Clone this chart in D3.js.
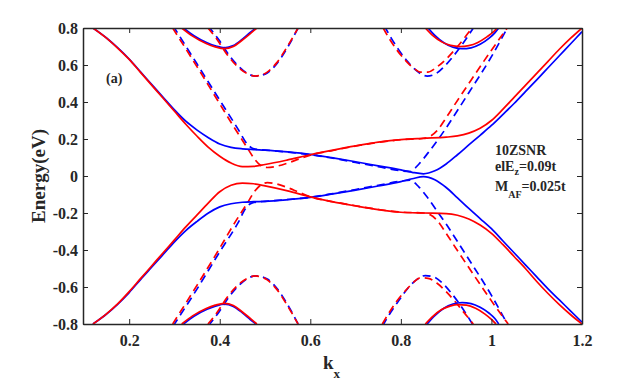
<!DOCTYPE html>
<html>
<head>
<meta charset="utf-8">
<script src="https://cdn.jsdelivr.net/npm/d3@7"></script>
<style>
  body { margin: 0; background: #fff; }
  svg { display: block; }
  text { font-family: "Liberation Serif", "Times New Roman", serif; font-weight: bold; fill: #262626; }
</style>
</head>
<body>
<div id="chart"></div>
<script>
// tick labels
const xTicks = [0.2, 0.4, 0.6, 0.8, 1, 1.2];
const yTicks = [-0.8, -0.6, -0.4, -0.2, 0, 0.2, 0.4, 0.6, 0.8];

// solid bands, [kx, E]
const redUpper = [[0.12,0.8],[0.15,0.745],[0.175,0.69],[0.2,0.63],[0.225,0.56],[0.25,0.49],[0.275,0.42],[0.3,0.35],[0.325,0.28],[0.35,0.215],[0.375,0.155],[0.4,0.107],[0.425,0.07],[0.45,0.051],[0.475,0.052],[0.5,0.062],[0.55,0.087],[0.6,0.115],[0.65,0.14],[0.7,0.163],[0.75,0.183],[0.8,0.197],[0.85,0.204],[0.9,0.21],[0.925,0.217],[0.95,0.232],[0.975,0.258],[1.0,0.3],[1.025,0.36],[1.05,0.425],[1.075,0.49],[1.1,0.555],[1.125,0.62],[1.15,0.685],[1.175,0.745],[1.2,0.8]];
const blueUpper = [[0.12,0.8],[0.15,0.746],[0.175,0.692],[0.2,0.632],[0.225,0.563],[0.25,0.494],[0.275,0.425],[0.3,0.357],[0.325,0.296],[0.35,0.248],[0.375,0.207],[0.4,0.173],[0.425,0.155],[0.45,0.147],[0.475,0.143],[0.5,0.14],[0.55,0.13],[0.6,0.117],[0.65,0.098],[0.7,0.077],[0.75,0.055],[0.8,0.033],[0.825,0.02],[0.85,0.012],[0.875,0.028],[0.9,0.065],[0.925,0.115],[0.95,0.168],[0.975,0.22],[1.0,0.273],[1.025,0.332],[1.05,0.392],[1.075,0.456],[1.1,0.52],[1.125,0.585],[1.15,0.65],[1.175,0.715],[1.2,0.78]];
const redLower = [[0.12,-0.8],[0.15,-0.745],[0.175,-0.69],[0.2,-0.625],[0.225,-0.555],[0.25,-0.485],[0.275,-0.415],[0.3,-0.345],[0.325,-0.275],[0.35,-0.21],[0.375,-0.145],[0.4,-0.085],[0.425,-0.05],[0.45,-0.038],[0.475,-0.042],[0.5,-0.053],[0.55,-0.08],[0.6,-0.113],[0.65,-0.14],[0.7,-0.162],[0.75,-0.182],[0.8,-0.196],[0.85,-0.2],[0.9,-0.203],[0.925,-0.212],[0.95,-0.232],[0.975,-0.265],[1.0,-0.31],[1.025,-0.37],[1.05,-0.435],[1.075,-0.5],[1.1,-0.57],[1.125,-0.635],[1.15,-0.695],[1.175,-0.75],[1.2,-0.8]];
const blueLower = [[0.12,-0.8],[0.15,-0.746],[0.175,-0.692],[0.2,-0.63],[0.225,-0.56],[0.25,-0.492],[0.275,-0.424],[0.3,-0.356],[0.325,-0.295],[0.35,-0.245],[0.375,-0.2],[0.4,-0.167],[0.425,-0.15],[0.45,-0.142],[0.475,-0.139],[0.5,-0.137],[0.55,-0.128],[0.6,-0.116],[0.65,-0.097],[0.7,-0.076],[0.75,-0.054],[0.8,-0.03],[0.825,-0.015],[0.85,-0.003],[0.875,-0.02],[0.9,-0.062],[0.925,-0.118],[0.95,-0.175],[0.975,-0.23],[1.0,-0.285],[1.025,-0.35],[1.05,-0.415],[1.075,-0.48],[1.1,-0.545],[1.125,-0.61],[1.15,-0.67],[1.175,-0.73],[1.2,-0.79]];

// small pockets near +-0.68
const redTopLeft = [[0.316,0.8],[0.34,0.756],[0.37,0.716],[0.39,0.698],[0.41,0.688],[0.43,0.7],[0.45,0.735],[0.47,0.775],[0.482,0.8]];
const blueTopLeft = [[0.32,0.8],[0.343,0.758],[0.372,0.72],[0.392,0.702],[0.41,0.693],[0.43,0.705],[0.45,0.74],[0.468,0.777],[0.48,0.8]];
const redBotLeft = [[0.316,-0.8],[0.34,-0.756],[0.37,-0.716],[0.39,-0.698],[0.41,-0.688],[0.43,-0.7],[0.45,-0.735],[0.47,-0.775],[0.482,-0.8]];
const blueBotLeft = [[0.32,-0.8],[0.343,-0.758],[0.372,-0.72],[0.392,-0.702],[0.41,-0.693],[0.43,-0.705],[0.45,-0.74],[0.468,-0.777],[0.48,-0.8]];
const redTopRight = [[0.854,0.8],[0.87,0.76],[0.89,0.725],[0.91,0.706],[0.93,0.7],[0.95,0.705],[0.97,0.722],[0.99,0.752],[1.005,0.78],[1.013,0.8]];
const blueTopRight = [[0.86,0.8],[0.875,0.76],[0.895,0.72],[0.915,0.696],[0.935,0.688],[0.955,0.693],[0.975,0.712],[0.995,0.745],[1.008,0.775],[1.016,0.8]];
const redBotRight = [[0.854,-0.8],[0.87,-0.76],[0.89,-0.722],[0.91,-0.702],[0.925,-0.695],[0.945,-0.698],[0.965,-0.715],[0.985,-0.745],[1.0,-0.775],[1.01,-0.8]];
const blueBotRight = [[0.858,-0.8],[0.875,-0.755],[0.895,-0.715],[0.915,-0.692],[0.935,-0.684],[0.955,-0.69],[0.975,-0.71],[0.995,-0.742],[1.008,-0.772],[1.016,-0.8]];

// dashed bands
const redDashTopLeft = [[0.374,0.8],[0.394,0.738],[0.416,0.657],[0.438,0.594],[0.46,0.554],[0.478,0.54],[0.504,0.56],[0.526,0.613],[0.548,0.695],[0.573,0.8]];
const blueDashTopLeft = [[0.378,0.8],[0.398,0.736],[0.42,0.655],[0.442,0.592],[0.462,0.553],[0.48,0.54],[0.505,0.557],[0.527,0.61],[0.549,0.692],[0.573,0.8]];
const redDashBotLeft = [[0.374,-0.8],[0.394,-0.738],[0.416,-0.657],[0.438,-0.594],[0.46,-0.554],[0.478,-0.54],[0.504,-0.56],[0.526,-0.613],[0.548,-0.695],[0.573,-0.8]];
const blueDashBotLeft = [[0.378,-0.8],[0.398,-0.736],[0.42,-0.655],[0.442,-0.592],[0.462,-0.553],[0.48,-0.54],[0.505,-0.557],[0.527,-0.61],[0.549,-0.692],[0.573,-0.8]];
const redDashTopRight = [[0.761,0.8],[0.775,0.74],[0.79,0.685],[0.81,0.625],[0.828,0.583],[0.843,0.562],[0.86,0.562],[0.88,0.59],[0.9,0.632],[0.92,0.685],[0.94,0.745],[0.957,0.8]];
const blueDashTopRight = [[0.766,0.8],[0.78,0.74],[0.795,0.683],[0.815,0.618],[0.835,0.568],[0.858,0.54],[0.875,0.55],[0.895,0.59],[0.915,0.645],[0.935,0.71],[0.96,0.8]];
const redDashBotRight = [[0.759,-0.8],[0.775,-0.735],[0.79,-0.68],[0.81,-0.62],[0.828,-0.575],[0.843,-0.55],[0.86,-0.553],[0.88,-0.58],[0.9,-0.625],[0.92,-0.68],[0.94,-0.74],[0.96,-0.8]];
const blueDashBotRight = [[0.762,-0.8],[0.778,-0.735],[0.795,-0.675],[0.815,-0.608],[0.835,-0.56],[0.854,-0.538],[0.872,-0.545],[0.892,-0.58],[0.912,-0.635],[0.932,-0.7],[0.958,-0.8]];
const redDashUpper = [[0.296,0.8],[0.35,0.59],[0.4,0.39],[0.43,0.27],[0.46,0.155],[0.478,0.088],[0.49,0.058],[0.505,0.046],[0.52,0.05],[0.55,0.07],[0.575,0.092],[0.6,0.113],[0.65,0.138],[0.7,0.162],[0.75,0.182],[0.8,0.196],[0.85,0.203],[0.865,0.215],[0.88,0.245],[0.9,0.315],[0.92,0.39],[0.95,0.5],[1.0,0.68],[1.035,0.8]];
const blueDashUpper = [[0.3,0.8],[0.35,0.605],[0.4,0.41],[0.44,0.255],[0.46,0.175],[0.472,0.15],[0.485,0.143],[0.5,0.14],[0.55,0.129],[0.6,0.115],[0.65,0.096],[0.7,0.073],[0.75,0.05],[0.8,0.028],[0.82,0.024],[0.84,0.065],[0.86,0.125],[0.88,0.19],[0.9,0.26],[0.92,0.335],[0.95,0.45],[1.0,0.645],[1.035,0.8]];
const redDashLower = [[0.296,-0.8],[0.35,-0.59],[0.4,-0.39],[0.43,-0.265],[0.46,-0.15],[0.478,-0.08],[0.49,-0.05],[0.505,-0.036],[0.52,-0.04],[0.55,-0.063],[0.575,-0.088],[0.6,-0.112],[0.65,-0.139],[0.7,-0.161],[0.75,-0.181],[0.8,-0.195],[0.85,-0.2],[0.865,-0.21],[0.88,-0.24],[0.9,-0.31],[0.92,-0.385],[0.95,-0.495],[1.0,-0.675],[1.037,-0.8]];
const blueDashLower = [[0.3,-0.8],[0.35,-0.61],[0.4,-0.41],[0.44,-0.255],[0.46,-0.165],[0.472,-0.145],[0.485,-0.14],[0.5,-0.137],[0.55,-0.127],[0.6,-0.115],[0.65,-0.095],[0.7,-0.073],[0.75,-0.05],[0.8,-0.028],[0.82,-0.022],[0.84,-0.06],[0.86,-0.12],[0.88,-0.19],[0.9,-0.26],[0.92,-0.335],[0.95,-0.45],[1.0,-0.645],[1.035,-0.8]];

const width = 643, height = 382;
const margin = {left: 83, right: 61, top: 28, bottom: 58};
const plotW = width - margin.left - margin.right;
const plotH = height - margin.top - margin.bottom;

const svg = d3.select('#chart').append('svg')
    .attr('width', width)
    .attr('height', height);

const x = d3.scaleLinear().domain([0.098, 1.2]).range([margin.left, margin.left + plotW]);
const y = d3.scaleLinear().domain([-0.8, 0.8]).range([margin.top + plotH, margin.top]);

svg.append('clipPath').attr('id', 'plotclip')
    .append('rect')
    .attr('x', margin.left).attr('y', margin.top)
    .attr('width', plotW).attr('height', plotH);

const line = d3.line()
    .x(d => x(d[0]))
    .y(d => y(d[1]))
    .curve(d3.curveMonotoneX);

const plot = svg.append('g').attr('clip-path', 'url(#plotclip)');

// dashed first, blue under red, blue dash phase shifted a bit
const dashed = [
    [blueDashTopLeft, 'blue'], [redDashTopLeft, 'red'],
    [blueDashBotLeft, 'blue'], [redDashBotLeft, 'red'],
    [blueDashTopRight, 'blue'], [redDashTopRight, 'red'],
    [blueDashBotRight, 'blue'], [redDashBotRight, 'red'],
    [blueDashUpper, 'blue'], [redDashUpper, 'red'],
    [blueDashLower, 'blue'], [redDashLower, 'red']
];
dashed.forEach(([pts, c]) => {
    plot.append('path')
        .attr('d', line(pts))
        .attr('fill', 'none')
        .attr('stroke', c === 'red' ? '#ff0000' : '#0000ff')
        .attr('stroke-width', 1.7)
        .attr('stroke-dasharray', '8,5')
        .attr('stroke-dashoffset', c === 'red' ? 0 : 2.5);
});

const solid = [
    [blueUpper, 'blue'], [redUpper, 'red'],
    [blueLower, 'blue'], [redLower, 'red'],
    [blueTopLeft, 'blue'], [redTopLeft, 'red'],
    [blueBotLeft, 'blue'], [redBotLeft, 'red'],
    [blueTopRight, 'blue'], [redTopRight, 'red'],
    [blueBotRight, 'blue'], [redBotRight, 'red']
];
solid.forEach(([pts, c]) => {
    plot.append('path')
        .attr('d', line(pts))
        .attr('fill', 'none')
        .attr('stroke', c === 'red' ? '#ff0000' : '#0000ff')
        .attr('stroke-width', 1.7);
});

// axes box with inward ticks on all sides
const tickLen = 5;
const fmt = d => d === 0 ? '0' : String(d);

const xAxisB = d3.axisBottom(x).tickValues(xTicks).tickSizeInner(-tickLen).tickSizeOuter(0).tickFormat(fmt).tickPadding(11);
const xAxisT = d3.axisTop(x).tickValues(xTicks).tickSizeInner(-tickLen).tickSizeOuter(0).tickFormat('');
const yAxisL = d3.axisLeft(y).tickValues(yTicks).tickSizeInner(-tickLen).tickSizeOuter(0).tickFormat(fmt).tickPadding(5);
const yAxisR = d3.axisRight(y).tickValues(yTicks).tickSizeInner(-tickLen).tickSizeOuter(0).tickFormat('');

const axes = [
    svg.append('g').attr('transform', `translate(0,${margin.top + plotH})`).call(xAxisB),
    svg.append('g').attr('transform', `translate(0,${margin.top})`).call(xAxisT),
    svg.append('g').attr('transform', `translate(${margin.left},0)`).call(yAxisL),
    svg.append('g').attr('transform', `translate(${margin.left + plotW},0)`).call(yAxisR)
];
axes.forEach(g => {
    g.select('.domain').attr('stroke', '#262626').attr('stroke-width', 1.5);
    g.selectAll('.tick line').attr('stroke', '#262626').attr('stroke-width', 1);
    g.selectAll('.tick text')
        .attr('font-family', '"Liberation Serif", serif')
        .attr('font-weight', 'bold')
        .attr('font-size', 16)
        .attr('fill', '#262626');
});

// axis titles
svg.append('text')
    .attr('transform', `translate(45,${margin.top + plotH / 2}) rotate(-90)`)
    .attr('text-anchor', 'middle')
    .attr('font-size', 19)
    .text('Energy(eV)');

const xt = svg.append('text')
    .attr('x', 323).attr('y', 369)
    .attr('font-size', 19);
xt.append('tspan').text('k');
xt.append('tspan').attr('dy', 9).attr('font-size', 13).text('x');

// annotations
svg.append('text').attr('x', 106).attr('y', 83).attr('font-size', 14).text('(a)');
svg.append('text').attr('x', 495).attr('y', 155).attr('font-size', 14).text('10ZSNR');

const t2 = svg.append('text').attr('x', 495).attr('y', 171).attr('font-size', 14);
t2.append('tspan').text('elE');
t2.append('tspan').attr('dy', 4).attr('font-size', 10).text('z');
t2.append('tspan').attr('dy', -4).text('=0.09t');

const t3 = svg.append('text').attr('x', 495).attr('y', 191).attr('font-size', 14);
t3.append('tspan').text('M');
t3.append('tspan').attr('dy', 7).attr('font-size', 10).text('AF');
t3.append('tspan').attr('dy', -7).text('=0.025t');
</script>
</body>
</html>
